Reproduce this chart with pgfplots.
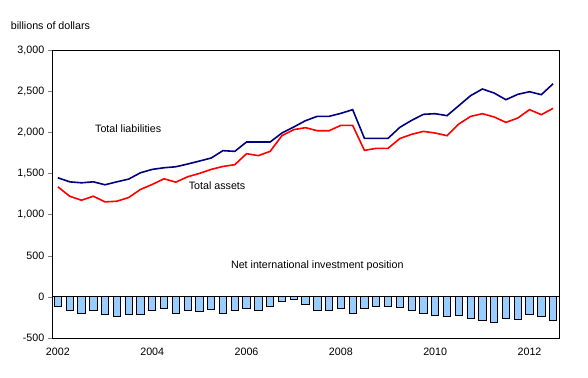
\documentclass[border=0pt]{standalone}
\usepackage{pgfplots}
\pgfplotsset{compat=1.18}
\usepackage{pgfplotstable}
\usepackage{fontspec}
\setmainfont{Liberation Sans}
\definecolor{liab}{RGB}{0,0,128}
\definecolor{assetsc}{RGB}{255,0,0}
\definecolor{barfill}{RGB}{153,204,255}

\pgfplotstableread{
i liab assets net
0 1447 1337 -110
1 1398 1223 -170
2 1386 1174 -200
3 1398 1223 -170
4 1362 1154 -210
5 1398 1162 -235
6 1431 1207 -210
7 1508 1305 -210
8 1549 1366 -170
9 1569 1435 -138
10 1581 1394 -200
11 1614 1459 -162
12 1650 1500 -175
13 1687 1549 -150
14 1777 1585 -200
15 1768 1606 -162
16 1882 1740 -138
17 1882 1716 -162
18 1882 1768 -110
19 1991 1959 -53
20 2064 2032 -28
21 2141 2056 -90
22 2194 2019 -170
23 2194 2019 -170
24 2230 2084 -146
25 2275 2084 -200
26 1926 1780 -146
27 1926 1805 -122
28 1926 1805 -122
29 2060 1924 -134
30 2145 1975 -170
31 2218 2011 -207
32 2226 1991 -231
33 2202 1959 -243
34 2323 2100 -231
35 2445 2193 -259
36 2526 2226 -292
37 2477 2186 -308
38 2396 2120 -267
39 2461 2173 -280
40 2493 2275 -219
41 2457 2214 -243
42 2590 2291 -292
}\data

\begin{document}
\fontsize{10.7bp}{12.8bp}\selectfont
\begin{tikzpicture}
\path[use as bounding box] (0,0) rectangle (588bp,378bp);
\begin{axis}[
  at={(52bp,40bp)}, anchor=south west,
  scale only axis, width=507bp, height=288bp,
  xmin=-0.5, xmax=42.5, ymin=-500, ymax=3000,
  xtick={0,8,16,24,32,40},
  xticklabels={2002,2004,2006,2008,2010,2012},
  ytick={-500,0,500,1000,1500,2000,2500,3000},
  major x tick style={draw=none},
  ytick pos=left, tick align=outside, major tick length=4bp,
  /pgf/number format/assume math mode=true,
  /pgf/number format/1000 sep={,},
  tick label style={font=\fontsize{10.7bp}{12.8bp}\selectfont},
  xticklabel style={yshift=-2bp},
  axis line style={line width=0.9bp},
  clip=false,
]
\addplot[ybar, bar width=7.3bp, fill=barfill, draw=black, line width=0.8bp] table[x=i,y=net]{\data};
\draw[black, line width=0.9bp] (axis cs:-0.5,0) -- (axis cs:42.5,0);
\addplot[liab, line width=1.6bp, mark=none] table[x=i,y=liab]{\data};
\addplot[assetsc, line width=1.6bp, mark=none] table[x=i,y=assets]{\data};
\node at (axis cs:5.96,2044) {Total liabilities};
\node at (axis cs:13.5,1351) {Total assets};
\node at (axis cs:22,373) {Net international investment position};
\end{axis}
\node[anchor=west, inner sep=0pt] at (10.7bp,352bp) {billions of dollars};
\end{tikzpicture}
\end{document}
